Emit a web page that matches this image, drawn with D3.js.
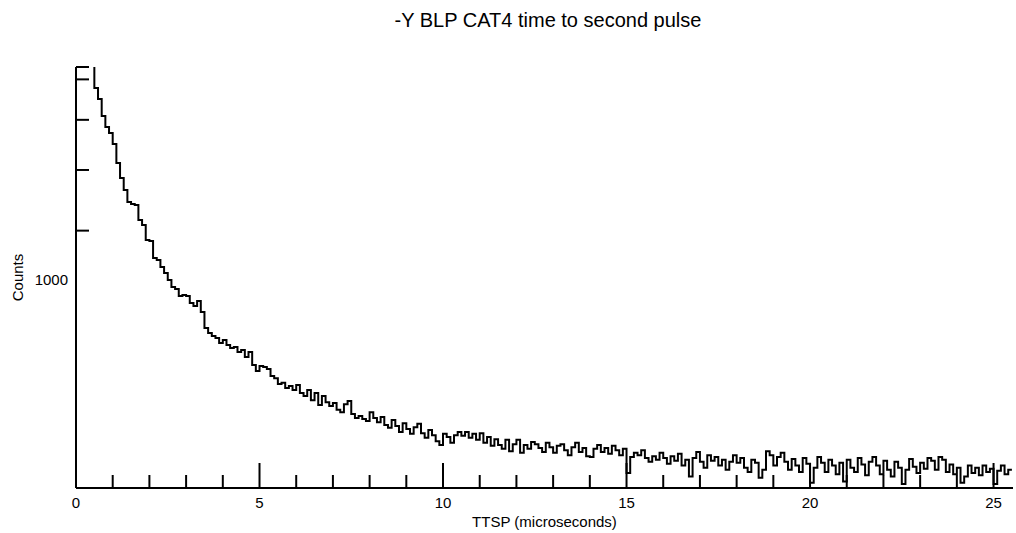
<!DOCTYPE html>
<html><head><meta charset="utf-8">
<script src="https://cdn.jsdelivr.net/npm/d3@7"></script>
<style>
body{margin:0;background:#fff}
svg{display:block}
text{font-family:"Liberation Sans",Arial,Helvetica,sans-serif;fill:#000}
</style></head>
<body><svg id="c" width="1016" height="533"></svg>
<script>
// ---- data ----
const title = "-Y BLP CAT4 time to second pulse";
const xTitle = "TTSP (microseconds)";
const yTitle = "Counts";
const binStart = 0.5;      // microseconds, left edge of first bin
const binWidth = 0.1;      // microseconds
const preCount = 30000;    // off-scale bin just before 0.5 us
const counts = [
 15800,13500,10570,9020,8270,7060,5375,4330,3640,3070,
 2980,2935,2365,2200,1774,1750,1370,1330,1203,1103,
 998,902,876,792,804,792,717,686,738,629,
 500,465,446,433,403,421,392,375,380,354,
 364,329,354,294,269,289,285,277,251,243,
 223,227,211,217,205,220,196,188,205,177,
 196,165,188,172,163,170,154,149,167,175,
 145,137,141,135,131,149,137,129,139,124,
 119,133,122,112,127,117,109,120,126,110,
 103,115,107,98,93,109,104,96,107,112,
 106,112,103,109,100,110,96,104,92,101,
 93,88,100,85,94,100,83,93,88,97,
 94,89,84,96,90,83,92,94,86,80,
 90,96,84,89,79,78,88,93,84,89,
 82,92,86,80,88,62,78,83,80,86,
 77,73,79,75,83,77,71,79,74,82,
 69,75,59,77,84,73,67,80,74,78,
 69,75,65,73,80,72,77,67,63,75,
 72,58,65,85,80,69,78,83,73,65,
 76,69,63,77,71,54,67,78,72,63,
 75,69,61,72,55,75,67,63,77,70,
 60,73,78,69,61,74,65,59,73,67,
 53,65,76,68,62,72,66,77,74,65,
 78,75,63,70,61,67,54,59,69,62,
 67,60,69,63,66,53,64,69,61,65
];
const xDomain = [0, 25.53];
const yDomain = [50, 21390];
const xMajorTicks = [0,5,10,15,20,25];
const xMinorTicks = [1,2,3,4,6,7,8,9,11,12,13,14,16,17,18,19,21,22,23,24];
const yLabelTicks = [1000];
const yMarkTicks = [2030,4860,10000,17900,21390];

// ---- layout ----
const svg = d3.select("#c");
const L = 76, R = 1013, T = 67, B = 488;
const x = d3.scaleLinear().domain(xDomain).range([L, R]);
const y = d3.scaleLog().domain(yDomain).range([B, T]);

svg.append("defs").append("clipPath").attr("id","plot")
  .append("rect").attr("x",L).attr("y",T).attr("width",R-L).attr("height",B-T);

// histogram as a step line
const pts = [[binStart - binWidth, preCount]]
  .concat(counts.map((c,i)=>[binStart + i*binWidth, c]));
pts.push([binStart + counts.length*binWidth, counts[counts.length-1]]);
const line = d3.line().x(d=>x(d[0])).y(d=>y(d[1])).curve(d3.curveStepAfter);
svg.append("path").datum(pts)
  .attr("clip-path","url(#plot)")
  .attr("d", line)
  .attr("fill","none").attr("stroke","#000").attr("stroke-width",2)
  .attr("stroke-linejoin","miter");

function styleAxis(g){
  g.selectAll("path.domain").attr("stroke","#000").attr("stroke-width",2);
  g.selectAll(".tick line").attr("stroke","#000").attr("stroke-width",2);
}

// y axis: inward ticks
const gy = svg.append("g").attr("transform",`translate(${L},0)`)
  .call(d3.axisRight(y).tickValues(yMarkTicks).tickSize(13).tickSizeOuter(0).tickFormat("").offset(0));
styleAxis(gy);
// y labels
const gyl = svg.append("g").attr("transform",`translate(${L},0)`)
  .call(d3.axisLeft(y).tickValues(yLabelTicks).tickSize(0).tickPadding(8).tickFormat(d3.format("d")).offset(0));
gyl.select(".domain").remove();
gyl.selectAll("text").attr("font-size",15).attr("font-family",null);

// x axis: minor ticks + line
const gx = svg.append("g").attr("transform",`translate(0,${B})`)
  .call(d3.axisTop(x).tickValues(xMinorTicks).tickSize(13).tickSizeOuter(0).tickFormat("").offset(0));
styleAxis(gx);
const gxM = svg.append("g").attr("transform",`translate(0,${B})`)
  .call(d3.axisTop(x).tickValues(xMajorTicks).tickSize(25).tickFormat("").offset(0));
gxM.select(".domain").remove();
styleAxis(gxM);
const gxl = svg.append("g").attr("transform",`translate(0,${B})`)
  .call(d3.axisBottom(x).tickValues(xMajorTicks).tickSize(0).tickPadding(9).tickFormat(d3.format("d")).offset(0));
gxl.select(".domain").remove();
gxl.selectAll("text").attr("font-size",15).attr("font-family",null);

// titles
svg.append("text").attr("x",548).attr("y",27).attr("text-anchor","middle")
  .attr("font-size",20).text(title);
svg.append("text").attr("x",(L+R)/2).attr("y",527).attr("text-anchor","middle")
  .attr("font-size",15).text(xTitle);
svg.append("text").attr("transform",`translate(23,${(T+B)/2}) rotate(-90)`)
  .attr("text-anchor","middle").attr("font-size",15).text(yTitle);
</script></body></html>
